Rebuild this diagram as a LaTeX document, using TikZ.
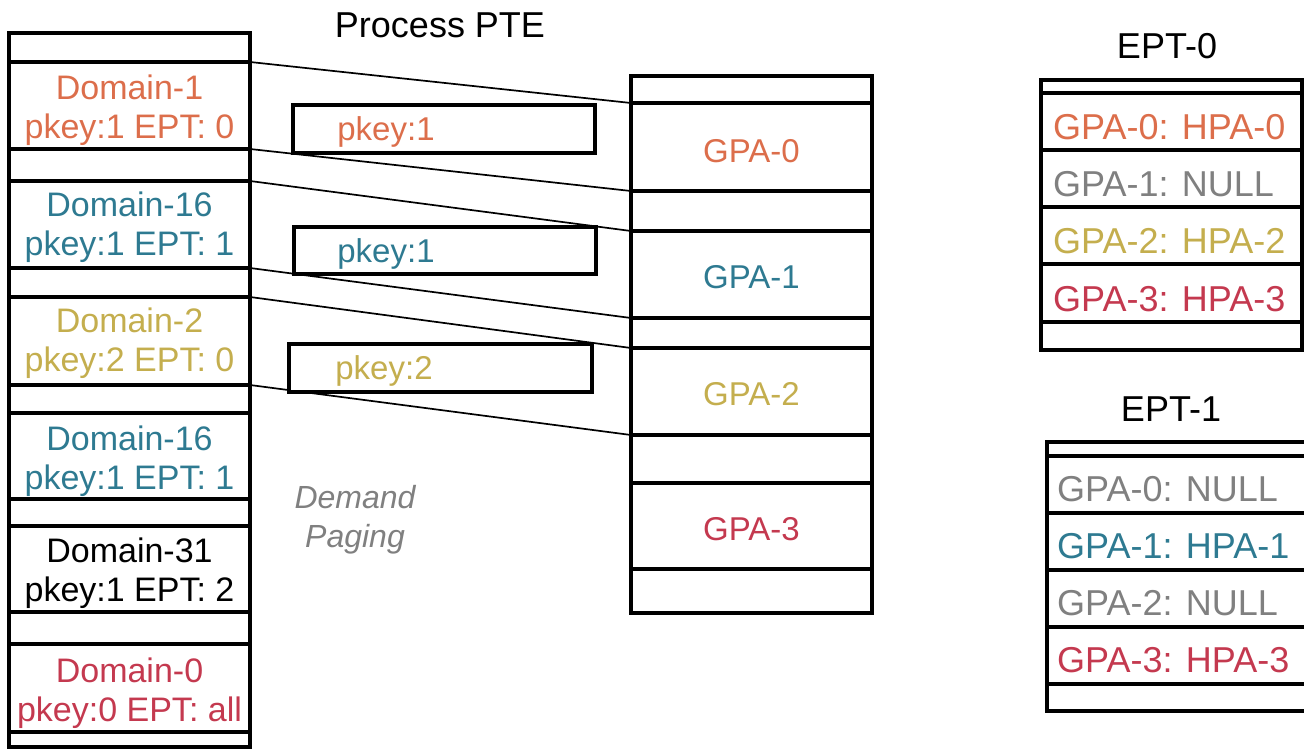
\documentclass[tikz,border=0pt]{standalone}
\usepackage{fontspec}
\setmainfont{Liberation Sans}

\definecolor{dorange}{RGB}{220,110,75}
\definecolor{dteal}{RGB}{46,122,145}
\definecolor{dgold}{RGB}{196,174,78}
\definecolor{dred}{RGB}{196,57,79}
\definecolor{dgray}{RGB}{128,128,128}

\tikzset{
  cell/.style={draw, rectangle, line width=3.5pt, inner sep=0pt, outer sep=0pt,
               anchor=north west},
  lcell/.style={cell, minimum width=241pt},
  mcell/.style={cell, minimum width=241pt},
  e0cell/.style={cell, minimum width=261pt},
  e1cell/.style={cell, minimum width=280pt},
  pkeybox/.style={cell, fill=white, minimum width=302pt, minimum height=48pt},
  domtext/.style={align=center, inner sep=0pt, font=\fontsize{34pt}{39pt}\selectfont},
  gpatext/.style={inner sep=0pt, font=\fontsize{33pt}{38pt}\selectfont},
  pktext/.style={inner sep=0pt, font=\fontsize{33pt}{38pt}\selectfont},
  epttext/.style={inner sep=0pt, anchor=west, font=\fontsize{36pt}{40pt}\selectfont},
  title/.style={inner sep=0pt, font=\fontsize{36pt}{40pt}\selectfont},
  conn/.style={line width=1.7pt},
}

\begin{document}
\begin{tikzpicture}[x=1pt, y=-1pt]
\useasboundingbox (0,0) rectangle (1304,749);

% ---- process page table: domains ----
\node[lcell, minimum height=29pt] (l0)   at (9,33)  {};
\node[lcell, minimum height=87pt] (d1)   at (9,62)  {};
\node[lcell, minimum height=32pt] (l1)   at (9,149) {};
\node[lcell, minimum height=87pt] (d16a) at (9,181) {};
\node[lcell, minimum height=29pt] (l2)   at (9,268) {};
\node[lcell, minimum height=88pt] (d2)   at (9,297) {};
\node[lcell, minimum height=28pt] (l3)   at (9,385) {};
\node[lcell, minimum height=86pt] (d16b) at (9,413) {};
\node[lcell, minimum height=27pt] (l4)   at (9,499) {};
\node[lcell, minimum height=86pt] (d31)  at (9,526) {};
\node[lcell, minimum height=32pt] (l5)   at (9,612) {};
\node[lcell, minimum height=88pt] (d0)   at (9,644) {};
\node[lcell, minimum height=15pt] (l6)   at (9,732) {};

\node[domtext, text=dorange] (td1)   at ([yshift=-5pt]d1.center)   {Domain-1\\pkey:1 EPT: 0};
\node[domtext, text=dteal]   (td16a) at ([yshift=-3pt]d16a.center) {Domain-16\\pkey:1 EPT: 1};
\node[domtext, text=dgold]   (td2)   at ([yshift=-2pt]d2.center)   {Domain-2\\pkey:2 EPT: 0};
\node[domtext, text=dteal]   (td16b) at ([yshift=-5pt]d16b.center) {Domain-16\\pkey:1 EPT: 1};
\node[domtext, text=black]   (td31)  at ([yshift=-4pt]d31.center)  {Domain-31\\pkey:1 EPT: 2};
\node[domtext, text=dred]    (td0)   at ([yshift=-5pt]d0.center)   {Domain-0\\pkey:0 EPT: all};

% ---- guest physical pages ----
\node[mcell, minimum height=27pt] (m0) at (631,76)  {};
\node[mcell, minimum height=88pt] (g0) at (631,103) {};
\node[mcell, minimum height=40pt] (m1) at (631,191) {};
\node[mcell, minimum height=87pt] (g1) at (631,231) {};
\node[mcell, minimum height=30pt] (m2) at (631,318) {};
\node[mcell, minimum height=87pt] (g2) at (631,348) {};
\node[mcell, minimum height=48pt] (m3) at (631,435) {};
\node[mcell, minimum height=86pt] (g3) at (631,483) {};
\node[mcell, minimum height=44pt] (m4) at (631,569) {};

\node[gpatext, text=dorange] (tg0) at ([yshift=-4pt]g0.center) {GPA-0};
\node[gpatext, text=dteal]   (tg1) at ([yshift=-3pt]g1.center) {GPA-1};
\node[gpatext, text=dgold]   (tg2) at ([yshift=-3pt]g2.center) {GPA-2};
\node[gpatext, text=dred]    (tg3) at ([yshift=-3pt]g3.center) {GPA-3};

% ---- mappings from domains to guest pages ----
\draw[conn] (d1.north east)   -- (g0.north west);
\draw[conn] (d1.south east)   -- (g0.south west);
\draw[conn] (d16a.north east) -- (g1.north west);
\draw[conn] (d16a.south east) -- (g1.south west);
\draw[conn] (d2.north east)   -- (g2.north west);
\draw[conn] (d2.south east)   -- (g2.south west);

% ---- protection keys ----
\node[pkeybox] (p1) at (293,105) {};
\node[pkeybox, minimum height=47pt] (p2) at (294,227) {};
\node[pkeybox, minimum width=303pt] (p3) at (289,344) {};
\node[pktext, text=dorange] (tp1) at ([xshift=93pt, yshift=-3pt]p1.west) {pkey:1};
\node[pktext, text=dteal]   (tp2) at ([xshift=92pt, yshift=-3pt]p2.west) {pkey:1};
\node[pktext, text=dgold]   (tp3) at ([xshift=95pt, yshift=-3pt]p3.west) {pkey:2};

\node[align=center, inner sep=0pt, text=dgray,
      font=\fontsize{32pt}{39pt}\selectfont\itshape] (dp) at (355,520) {Demand\\Paging};

% ---- titles ----
\node[title] (tpte)  at (440,25)  {Process PTE};
\node[title] (tept0) at (1167,46) {EPT-0};
\node[title] (tept1) at (1171,409) {EPT-1};

% ---- EPT-0 ----
\node[e0cell, minimum height=13pt] (e00) at (1041,80)  {};
\node[e0cell, minimum height=57pt] (e0a) at (1041,93)  {};
\node[e0cell, minimum height=57pt] (e0b) at (1041,150) {};
\node[e0cell, minimum height=57pt] (e0c) at (1041,207) {};
\node[e0cell, minimum height=58pt] (e0d) at (1041,264) {};
\node[e0cell, minimum height=28pt] (e01) at (1041,322) {};

\node[epttext, text=dorange] (te0a) at ([xshift=12pt, yshift=-6pt]e0a.west) {GPA-0: HPA-0};
\node[epttext, text=dgray]   (te0b) at ([xshift=12pt, yshift=-6pt]e0b.west) {GPA-1: NULL};
\node[epttext, text=dgold]   (te0c) at ([xshift=12pt, yshift=-6pt]e0c.west) {GPA-2: HPA-2};
\node[epttext, text=dred]    (te0d) at ([xshift=12pt, yshift=-6pt]e0d.west) {GPA-3: HPA-3};

% ---- EPT-1 ----
\node[e1cell, minimum height=14pt] (e10) at (1047,442) {};
\node[e1cell, minimum height=57pt] (e1a) at (1047,456) {};
\node[e1cell, minimum height=57pt] (e1b) at (1047,513) {};
\node[e1cell, minimum height=57pt] (e1c) at (1047,570) {};
\node[e1cell, minimum height=57pt] (e1d) at (1047,627) {};
\node[e1cell, minimum height=27pt] (e11) at (1047,684) {};

\node[epttext, text=dgray] (te1a) at ([xshift=10pt, yshift=-5pt]e1a.west) {GPA-0: NULL};
\node[epttext, text=dteal] (te1b) at ([xshift=10pt, yshift=-5pt]e1b.west) {GPA-1: HPA-1};
\node[epttext, text=dgray] (te1c) at ([xshift=10pt, yshift=-5pt]e1c.west) {GPA-2: NULL};
\node[epttext, text=dred]  (te1d) at ([xshift=10pt, yshift=-5pt]e1d.west) {GPA-3: HPA-3};
\end{tikzpicture}
\end{document}
